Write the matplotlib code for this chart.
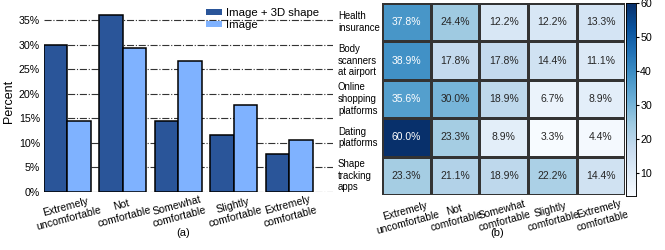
import numpy as np
import matplotlib
matplotlib.use("Agg")
import matplotlib.pyplot as plt
import seaborn as sns

# (a) comfort levels, percent of respondents
levels = ["Extremely\nuncomfortable", "Not\ncomfortable", "Somewhat\ncomfortable",
          "Slightly\ncomfortable", "Extremely\ncomfortable"]
shape3d = [30.0, 36.0, 14.4, 11.6, 7.8]
image = [14.4, 29.3, 26.6, 17.7, 10.5]

# (b) comfort per application
apps = ["Health\ninsurance", "Body\nscanners\nat airport", "Online\nshopping\nplatforms",
        "Dating\nplatforms", "Shape\ntracking\napps"]
heat = [
    [37.8, 24.4, 12.2, 12.2, 13.3],
    [38.9, 17.8, 17.8, 14.4, 11.1],
    [35.6, 30.0, 18.9, 6.7, 8.9],
    [60.0, 23.3, 8.9, 3.3, 4.4],
    [23.3, 21.1, 18.9, 22.2, 14.4],
]

plt.rcParams['font.family'] = ['Liberation Sans', 'DejaVu Sans']
fig = plt.figure(figsize=(6.65, 2.5), dpi=100)
fs = 7.2

# ---- bar chart
ax = fig.add_axes([0.0662, 0.232, 0.4346, 0.727])
x = np.arange(len(levels))
w = 0.42
ax.bar(x - w / 2, shape3d, w, color="#2a5599", edgecolor="black", linewidth=1.1,
       label="Image + 3D shape", zorder=3)
ax.bar(x + w / 2, image, w, color="#7fb2ff", edgecolor="black", linewidth=1.1,
       label="Image", zorder=3)
ax.set_xlim(-0.42, 4.79)
ax.set_ylim(0, 37)
ax.set_yticks(range(0, 36, 5))
ax.set_yticklabels([f"{v}%" for v in range(0, 36, 5)], fontsize=fs + 0.5)
ax.yaxis.grid(True, linestyle="-.", color="#333333", linewidth=0.8, zorder=0)
ax.set_axisbelow(True)
for s in ax.spines.values():
    s.set_visible(False)
ax.tick_params(axis="y", length=0, pad=3)
ax.tick_params(axis="x", length=0, pad=1)
ax.set_xticks(x)
ax.set_xticklabels(levels, rotation=15, fontsize=7.6, ha="center")
ax.set_ylabel("Percent", fontsize=9, labelpad=3)
leg = ax.legend(loc="upper right", bbox_to_anchor=(0.975, 1.05), frameon=False,
                fontsize=8.2, handlelength=1.4, handleheight=0.35, handletextpad=0.3,
                labelspacing=0.2, borderpad=0.1)
for h in leg.legend_handles:
    h.set_edgecolor("none")
fig.text(0.276, 0.055, "(a)", ha="center", fontsize=8)

# ---- heatmap
hax = fig.add_axes([0.575, 0.22, 0.365, 0.768])
cax = fig.add_axes([0.9414, 0.216, 0.015, 0.772])
data = np.array(heat)
labels = np.array([[f"{v:.1f}%" for v in row] for row in heat])
sns.heatmap(data, ax=hax, cbar_ax=cax, cmap="Blues", annot=labels, fmt="",
            linewidths=1, linecolor="#333333", annot_kws={"fontsize": 7.5},
            xticklabels=levels, yticklabels=apps)
hax.tick_params(axis="x", length=0, pad=2)
hax.tick_params(axis="y", length=0, pad=32)
hax.set_xticklabels(levels, rotation=15, fontsize=7.4, ha="center")
hax.set_yticklabels(apps, rotation=0, fontsize=6.9, ha="left", multialignment="left")
cax.tick_params(labelsize=fs + 0.5, length=2, pad=1)
cax.set_yticks([10, 20, 30, 40, 50, 60])
for s in cax.spines.values():
    s.set_visible(True)
    s.set_linewidth(0.5)
fig.text(0.748, 0.055, "(b)", ha="center", fontsize=8)

fig.savefig("out.png", dpi=100)
